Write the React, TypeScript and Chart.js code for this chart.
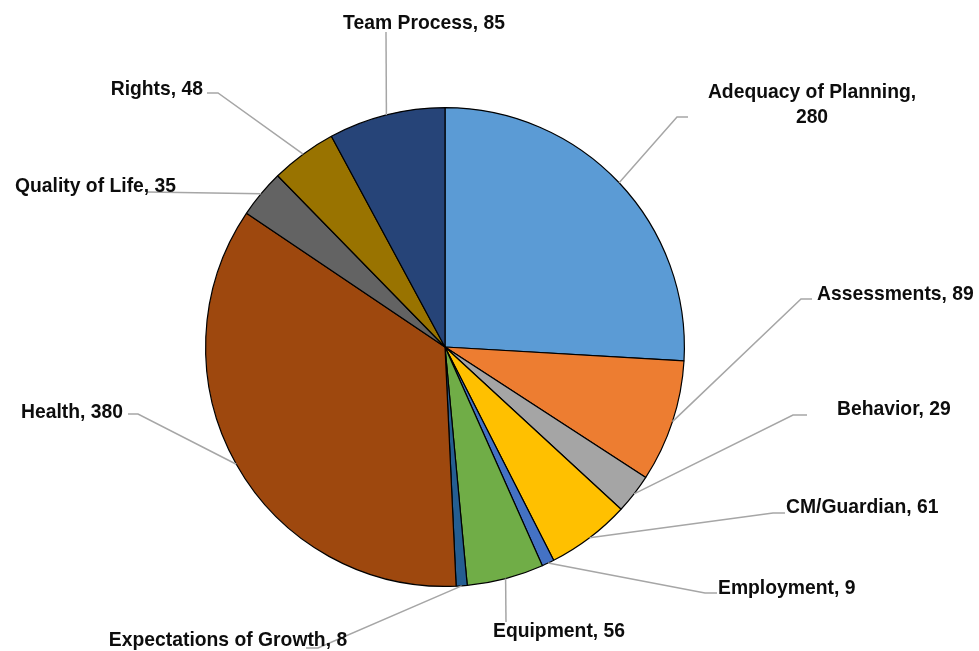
import React, { useEffect, useRef } from "react";
import { Chart, registerables } from "chart.js";

Chart.register(...registerables);

const categories = [
  "Adequacy of Planning",
  "Assessments",
  "Behavior",
  "CM/Guardian",
  "Employment",
  "Equipment",
  "Expectations of Growth",
  "Health",
  "Quality of Life",
  "Rights",
  "Team Process",
];
const values = [280, 89, 29, 61, 9, 56, 8, 380, 35, 48, 85];
const colors = [
  "#5B9BD5",
  "#ED7D31",
  "#A5A5A5",
  "#FFC000",
  "#4472C4",
  "#70AD47",
  "#255E91",
  "#9E480E",
  "#636363",
  "#997300",
  "#264478",
];

// label layout: leader points after the slice edge, text anchor (alphabetic baseline), alignment
type LabelLayout = {
  pts: [number, number][];
  tx: number;
  ty: number;
  align: CanvasTextAlign;
  lines?: string[];
};
const labelLayout: LabelLayout[] = [
  { pts: [[677, 117], [688, 117]], tx: 812, ty: 98, align: "center", lines: ["Adequacy of Planning,", "280"] },
  { pts: [[801, 299], [812, 299]], tx: 817, ty: 300, align: "left" },
  { pts: [[793, 415], [807, 415]], tx: 837, ty: 415, align: "left" },
  { pts: [[773, 513], [785, 513]], tx: 786, ty: 513, align: "left" },
  { pts: [[705, 593], [717, 593]], tx: 718, ty: 594, align: "left" },
  { pts: [[506, 622]], tx: 493, ty: 637, align: "left" },
  { pts: [[318, 648], [306, 648]], tx: 228, ty: 646, align: "center" },
  { pts: [[138, 414], [128, 414]], tx: 123, ty: 418, align: "right" },
  { pts: [[147, 192]], tx: 15, ty: 192, align: "left" },
  { pts: [[218, 93], [207, 93]], tx: 203, ty: 95, align: "right" },
  { pts: [[386, 32]], tx: 424, ty: 29, align: "center" },
];

const FONT = "bold 21px 'Liberation Sans', Arial, sans-serif";
const TEXT_SCALE_X = 0.92;

const labelPlugin = {
  id: "pieLabels",
  afterDraw(chart: any) {
    const ctx: CanvasRenderingContext2D = chart.ctx;
    const meta = chart.getDatasetMeta(0);
    ctx.save();
    meta.data.forEach((arc: any, i: number) => {
      const lay = labelLayout[i];
      const mid = (arc.startAngle + arc.endAngle) / 2;
      const sx = arc.x + arc.outerRadius * Math.cos(mid);
      const sy = arc.y + arc.outerRadius * Math.sin(mid);
      ctx.beginPath();
      ctx.strokeStyle = "#A6A6A6";
      ctx.lineWidth = 1.5;
      ctx.moveTo(sx, sy);
      lay.pts.forEach((p) => ctx.lineTo(p[0], p[1]));
      ctx.stroke();
    });
    ctx.font = FONT;
    ctx.fillStyle = "#0D0D0D";
    ctx.textBaseline = "alphabetic";
    meta.data.forEach((_arc: any, i: number) => {
      const lay = labelLayout[i];
      const lines = lay.lines ?? [`${categories[i]}, ${values[i]}`];
      ctx.textAlign = lay.align;
      lines.forEach((ln, k) => {
        ctx.save();
        ctx.translate(lay.tx, lay.ty + k * 25);
        ctx.scale(TEXT_SCALE_X, 1);
        ctx.fillText(ln, 0, 0);
        ctx.restore();
      });
    });
    ctx.restore();
  },
};

export default function App() {
  const ref = useRef<HTMLCanvasElement>(null);
  useEffect(() => {
    const prev = document.body.style.margin;
    document.body.style.margin = "0";
    const chart = new Chart(ref.current!, {
      type: "pie",
      data: {
        labels: categories,
        datasets: [
          {
            data: values,
            backgroundColor: colors,
            borderColor: "#000000",
            borderWidth: 1.2,
          },
        ],
      },
      options: {
        animation: false,
        responsive: false,
        layout: { padding: { left: 205, right: 294, top: 107, bottom: 64 } },
        plugins: {
          legend: { display: false },
          tooltip: { enabled: false },
        },
      },
      plugins: [labelPlugin],
    });
    return () => {
      chart.destroy();
      document.body.style.margin = prev;
    };
  }, []);
  return (
    <div style={{ width: 979, height: 651, background: "#fff" }}>
      <canvas ref={ref} width={979} height={651} />
    </div>
  );
}
